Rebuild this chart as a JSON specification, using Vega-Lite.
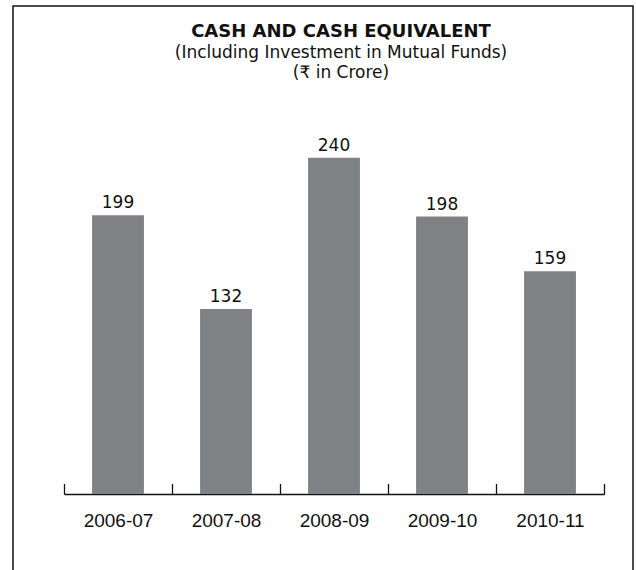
{
  "$schema": "https://vega.github.io/schema/vega-lite/v6.json",
  "width": 620,
  "height": 600,
  "autosize": {"type": "none"},
  "padding": {"left": 13, "top": 6, "right": 3, "bottom": 0},
  "background": "white",
  "title": {
    "text": "CASH AND CASH EQUIVALENT",
    "subtitle": ["(Including Investment in Mutual Funds)", "(₹ in Crore)"],
    "anchor": "middle",
    "frame": "group",
    "offset": -75,
    "dx": 18,
    "font": "DejaVu Sans",
    "fontSize": 18,
    "fontWeight": "bold",
    "color": "#111111",
    "subtitleFont": "DejaVu Sans",
    "subtitleFontSize": 17,
    "subtitleColor": "#111111",
    "subtitleLineHeight": 20,
    "subtitlePadding": 4
  },
  "data": {
    "values": [
      {"year": "2006-07", "value": 199},
      {"year": "2007-08", "value": 132},
      {"year": "2008-09", "value": 240},
      {"year": "2009-10", "value": 198},
      {"year": "2010-11", "value": 159}
    ]
  },
  "config": {"view": {"stroke": "#111111", "strokeWidth": 1.5}},
  "encoding": {
    "x": {
      "field": "year",
      "type": "nominal",
      "sort": null,
      "scale": {"range": [51, 591], "paddingInner": 0, "paddingOuter": 0},
      "axis": {
        "orient": "bottom",
        "offset": -112,
        "title": null,
        "labelAngle": 0,
        "labelFont": "Liberation Sans",
        "labelFontSize": 19,
        "labelColor": "#111111",
        "tickBand": "extent",
        "tickSize": -10.5,
        "tickColor": "#111111",
        "tickWidth": 1.3,
        "domainColor": "#111111",
        "domainWidth": 1.5,
        "labelPadding": 27.5,
        "grid": false
      }
    },
    "y": {
      "field": "value",
      "type": "quantitative",
      "scale": {"domain": [0, 250], "range": [488, 137.75], "nice": false},
      "axis": null
    }
  },
  "layer": [
    {"mark": {"type": "bar", "width": {"band": 0.48}, "color": "#808184"}},
    {
      "mark": {"type": "text", "dy": -7, "baseline": "alphabetic", "font": "DejaVu Sans", "fontSize": 17, "color": "#111111"},
      "encoding": {"text": {"field": "value", "type": "quantitative"}}
    }
  ]
}
